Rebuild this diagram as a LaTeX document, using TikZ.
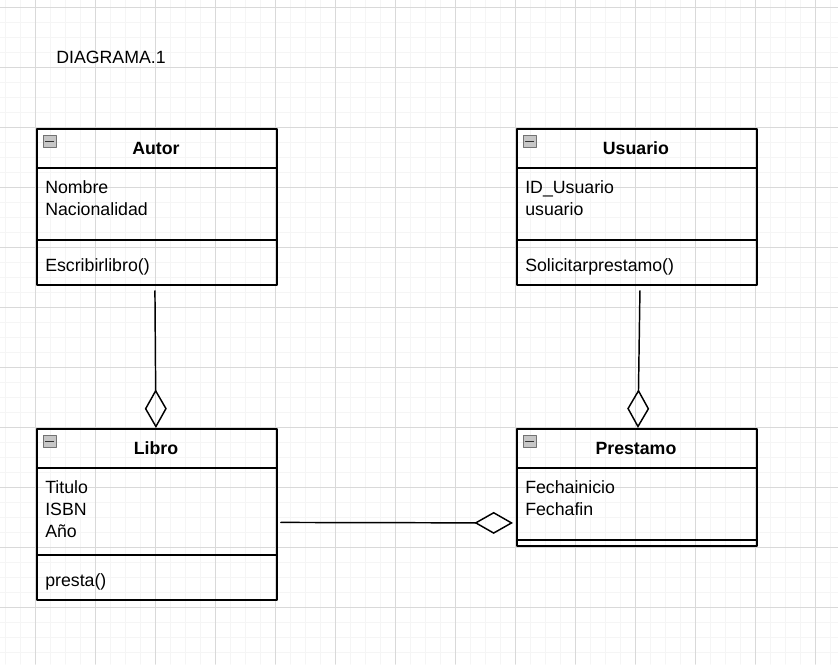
\documentclass[tikz,border=0pt]{standalone}
\usepackage{fontspec}
\setmainfont{Liberation Sans}
\usetikzlibrary{arrows.meta,calc}

\begin{document}
\begin{tikzpicture}[x=0.75pt,y=-0.75pt,line cap=round,line join=round,
    minorgrid/.style={color=black!4,line width=0.75pt},
    majorgrid/.style={color=black!15,line width=0.75pt},
    box/.style={draw=black,line width=1.4pt,inner sep=0pt,anchor=north west,minimum width=180pt},
    headbox/.style={box,minimum height=29.25pt},
    membertext/.style={anchor=base west,inner sep=0pt,font=\fontsize{13.3}{16.5}\selectfont},
    headtext/.style={anchor=base,inner sep=0pt,font=\fontsize{13.3}{16.5}\selectfont\bfseries},
    toggle/.style={draw=black!55,fill=black!22,line width=0.6pt,inner sep=0pt,
      minimum width=9.75pt,minimum height=9pt,
      path picture={\draw[line width=1.3pt,black!80] ([xshift=2pt]path picture bounding box.west) -- ([xshift=-2pt]path picture bounding box.east);}},
    aggr/.style={line width=1.1pt,-{Diamond[open,length=29pt,width=16.5pt,line width=1.1pt]}}]
  \useasboundingbox (0,0) rectangle (838,664);
  % background grid
  \foreach \x in {5.6,20.6,...,838}
    \draw[minorgrid] (\x,0) -- (\x,664);
  \foreach \y in {7.3,22.3,...,664}
    \draw[minorgrid] (0,\y) -- (838,\y);
  \foreach \x in {35.6,95.6,...,838}
    \draw[majorgrid] (\x,0) -- (\x,664);
  \foreach \y in {7.3,67.3,...,664}
    \draw[majorgrid] (0,\y) -- (838,\y);
  % title
  \node[membertext] (titulo) at (56,63) {DIAGRAMA.1};
  % class Autor
  \node[headbox] (autorhead) at (36,128) {};
  \node[box,minimum height=54pt] (autorattr) at (36,167) {};
  \node[box,minimum height=33.75pt] (autorops) at (36,239) {};
  \node[headtext] (autorname) at ($(autorhead.north)+(-1,26)$) {Autor};
  \node[toggle] (autortog) at (49.5,141.5) {};
  \node[membertext] (autora1) at ($(autorattr.north west)+(9,26)$) {Nombre};
  \node[membertext] (autora2) at ($(autorattr.north west)+(9,48)$) {Nacionalidad};
  \node[membertext] (autoro1) at ($(autorops.north west)+(9,32)$) {Escribirlibro()};
  % class Usuario
  \node[headbox] (usuariohead) at (516,128) {};
  \node[box,minimum height=54pt] (usuarioattr) at (516,167) {};
  \node[box,minimum height=33.75pt] (usuarioops) at (516,239) {};
  \node[headtext] (usuarioname) at ($(usuariohead.north)+(-1,26)$) {Usuario};
  \node[toggle] (usuariotog) at (529.5,141.5) {};
  \node[membertext] (usuarioa1) at ($(usuarioattr.north west)+(9,26)$) {ID\_Usuario};
  \node[membertext] (usuarioa2) at ($(usuarioattr.north west)+(9,48)$) {usuario};
  \node[membertext] (usuarioo1) at ($(usuarioops.north west)+(9,32)$) {Solicitarprestamo()};
  % class Libro
  \node[headbox] (librohead) at (36,428) {};
  \node[box,minimum height=65.25pt] (libroattr) at (36,467) {};
  \node[box,minimum height=33.75pt] (libroops) at (36,554) {};
  \node[headtext] (libroname) at ($(librohead.north)+(-1,26)$) {Libro};
  \node[toggle] (librotog) at (49.5,441.5) {};
  \node[membertext] (libroa1) at ($(libroattr.north west)+(9,26)$) {Titulo};
  \node[membertext] (libroa2) at ($(libroattr.north west)+(9,48)$) {ISBN};
  \node[membertext] (libroa3) at ($(libroattr.north west)+(9,70)$) {Año};
  \node[membertext] (libroo1) at ($(libroops.north west)+(9,32)$) {presta()};
  % class Prestamo
  \node[headbox] (prestamohead) at (516,428) {};
  \node[box,minimum height=54pt] (prestamoattr) at (516,467) {};
  \node[box,minimum height=4.5pt] (prestamoops) at (516,539) {};
  \node[headtext] (prestamoname) at ($(prestamohead.north)+(-1,26)$) {Prestamo};
  \node[toggle] (prestamotog) at (529.5,441.5) {};
  \node[membertext] (prestamoa1) at ($(prestamoattr.north west)+(9,26)$) {Fechainicio};
  \node[membertext] (prestamoa2) at ($(prestamoattr.north west)+(9,48)$) {Fechafin};
  % aggregations
  \draw[aggr] ([shift={(-2,5)}]autorops.south) -- ([xshift=-0.75pt]librohead.north);
  \draw[aggr] ([shift={(3,5)}]usuarioops.south) -- ([xshift=0.75pt]prestamohead.north);
  \draw[aggr] ([shift={(3,11)}]libroattr.east) -- ([shift={(-3,19)}]prestamoattr.west);
\end{tikzpicture}
\end{document}
